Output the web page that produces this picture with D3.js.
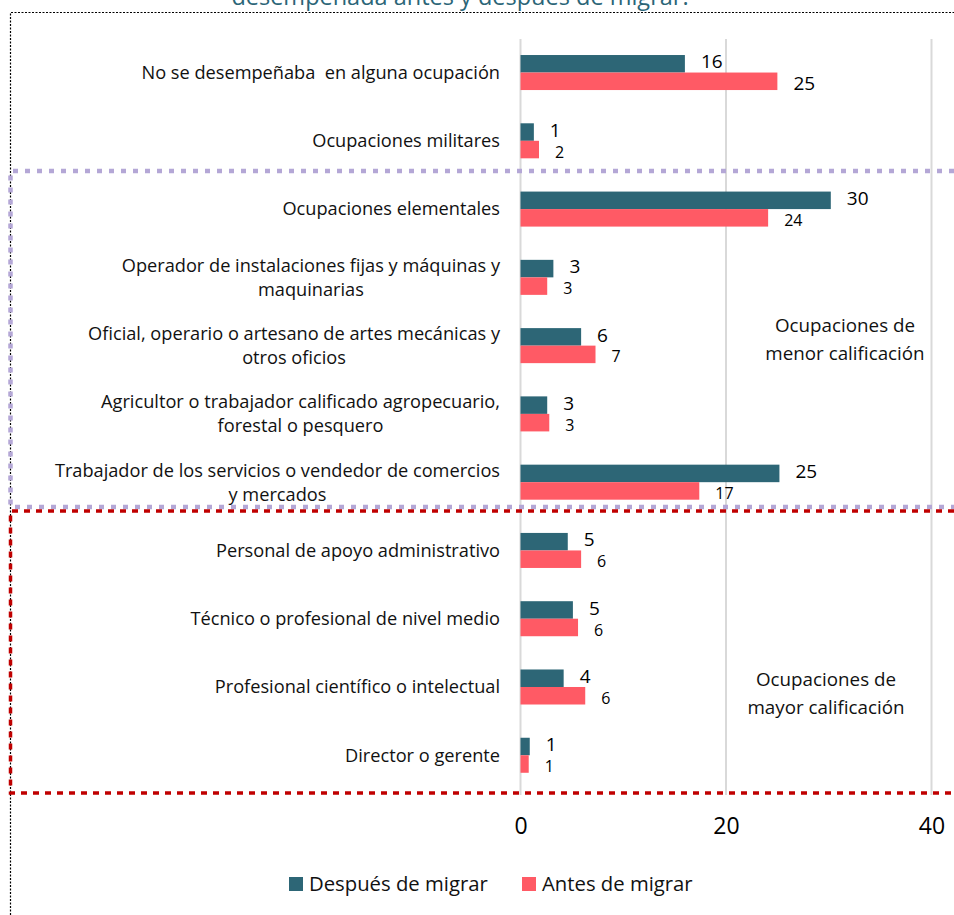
<!DOCTYPE html>
<html><head><meta charset="utf-8">
<script src="https://cdn.jsdelivr.net/npm/d3@7"></script>
<style>
body{margin:0;background:#fff;}
text{font-family:"Open Sans", Lato, sans-serif; white-space:pre;}
</style></head>
<body>
<svg id="chart" width="954" height="915"></svg>
<script>
const categories = [
  ["No se desempeñaba  en alguna ocupación"],
  ["Ocupaciones militares"],
  ["Ocupaciones elementales"],
  ["Operador de instalaciones fijas y máquinas y", "maquinarias"],
  ["Oficial, operario o artesano de artes mecánicas y", "otros oficios"],
  ["Agricultor o trabajador calificado agropecuario,", "forestal o pesquero"],
  ["Trabajador de los servicios o vendedor de comercios", "y mercados"],
  ["Personal de apoyo administrativo"],
  ["Técnico o profesional de nivel medio"],
  ["Profesional científico o intelectual"],
  ["Director o gerente"]
];
const despues = [16.0, 1.3, 30.2, 3.2, 5.9, 2.6, 25.2, 4.6, 5.1, 4.2, 0.9];
const antes   = [25.0, 1.8, 24.1, 2.6, 7.3, 2.8, 17.4, 5.9, 5.6, 6.3, 0.8];
const despuesLabels = ["16","1","30","3","6","3","25","5","5","4","1"];
const antesLabels   = ["25","2","24","3","7","3","17","6","6","6","1"];
const seriesNames = ["Después de migrar", "Antes de migrar"];
const xTicks = [0, 20, 40];
const groupNotes = [["Ocupaciones de", "menor calificación"], ["Ocupaciones de", "mayor calificación"]];
const titleText = "desempeñada antes y después de migrar.";

const colors = ["#2D6676", "#FF5A65"];
const FONT = "'Open Sans', Lato, sans-serif";
const svg = d3.select("#chart");

const x = d3.scaleLinear().domain([0, 40]).range([520.5, 931.5]);
const y = d3.scaleBand().domain(d3.range(categories.length)).range([38.4, 789.4]).paddingInner(0.487).paddingOuter(0.2435);
const ys = d3.scaleBand().domain([0, 1]).range([0, y.bandwidth()]);

// title (cut off at top, as in the reference)
svg.append("text").attr("x", 460).attr("y", 5).attr("text-anchor", "middle")
  .attr("fill", "#2B6577").attr("font-size", 23.5).text(titleText);

// outer dotted frame
svg.append("path").attr("d", "M10.5,915 V12.5 H954")
  .attr("fill", "none").attr("stroke", "#000").attr("stroke-width", 1.2).attr("stroke-dasharray", "2,1.5");

// gridlines
svg.append("g").selectAll("line").data(xTicks).join("line")
  .attr("x1", d => x(d)).attr("x2", d => x(d))
  .attr("y1", 39).attr("y2", 795)
  .attr("stroke", "#d9d9d9").attr("stroke-width", 2);

// axis labels
const xAxis = d3.axisBottom(x).tickValues(xTicks).tickSize(0).tickPadding(0);
const ax = svg.append("g").attr("transform", "translate(0,818)").call(xAxis);
ax.select(".domain").remove();
ax.selectAll("text").attr("font-size", 23).attr("fill", "#000").attr("font-family", FONT);

// bars
const rows = svg.append("g").selectAll("g").data(categories).join("g")
  .attr("transform", (d, i) => `translate(0,${y(i)})`);
rows.append("rect").attr("x", x(0)).attr("y", ys(0))
  .attr("width", (d, i) => x(despues[i]) - x(0)).attr("height", ys.bandwidth())
  .attr("fill", colors[0]);
rows.append("rect").attr("x", x(0)).attr("y", ys(1))
  .attr("width", (d, i) => x(antes[i]) - x(0)).attr("height", ys.bandwidth())
  .attr("fill", colors[1]);
rows.append("text").attr("x", (d, i) => x(despues[i]) + 16).attr("y", ys(0) + ys.bandwidth() / 2 - 2)
  .attr("dy", "0.35em").attr("font-size", 19).attr("fill", "#000").text((d, i) => despuesLabels[i]);
rows.append("text").attr("x", (d, i) => x(antes[i]) + 16).attr("y", ys(1) + ys.bandwidth() / 2 + 2.5)
  .attr("dy", "0.35em").attr("font-size", (d, i) => i === 0 ? 19 : 16).attr("fill", "#000").text((d, i) => antesLabels[i]);

// category labels (multi-line centered block, right edge at 500)
rows.each(function(lines, i) {
  const g = d3.select(this);
  const cy = y.bandwidth() / 2;
  const lh = 24;
  const t = g.append("text").attr("font-size", 18.2).attr("fill", "#111");
  const tmp = lines.map((l, j) => t.append("tspan").attr("y", cy + (j - (lines.length - 1) / 2) * lh).attr("dy", "0.35em").text(l));
  const widths = tmp.map(s => s.node().getComputedTextLength());
  const w = Math.max(...widths);
  const cx = 500 - w / 2;
  tmp.forEach(s => s.attr("x", cx).attr("text-anchor", "middle"));
});

// group boxes
const yTop1 = 171, yBot1 = 507, yTop2 = 511, yBot2 = 793;
svg.append("path").attr("d", `M954,${yTop1} H10.5 V${yBot1} H954`)
  .attr("fill", "none").attr("stroke", "#B4A7D6").attr("stroke-width", 4.5).attr("stroke-dasharray", "5,7");
svg.append("path").attr("d", `M954,${yTop2} H10.5 V${yBot2} H954`)
  .attr("fill", "none").attr("stroke", "#C00000").attr("stroke-width", 3.5).attr("stroke-dasharray", "6,6");

// notes
const notePos = [[845, 325], [826, 679]];
groupNotes.forEach((lines, k) => {
  const t = svg.append("text").attr("text-anchor", "middle").attr("font-size", 18.8).attr("fill", "#111");
  lines.forEach((l, j) => t.append("tspan").attr("x", notePos[k][0]).attr("y", notePos[k][1] + j * 28).attr("dy", "0.35em").text(l));
});

// legend
const leg = svg.append("g");
const legX = [289, 522];
seriesNames.forEach((n, k) => {
  leg.append("rect").attr("x", legX[k]).attr("y", 877).attr("width", 14).attr("height", 14).attr("fill", colors[k]);
  leg.append("text").attr("x", legX[k] + 20).attr("y", 884).attr("dy", "0.35em").attr("font-size", 20.3).attr("fill", "#111").text(n);
});
</script>
</body></html>
